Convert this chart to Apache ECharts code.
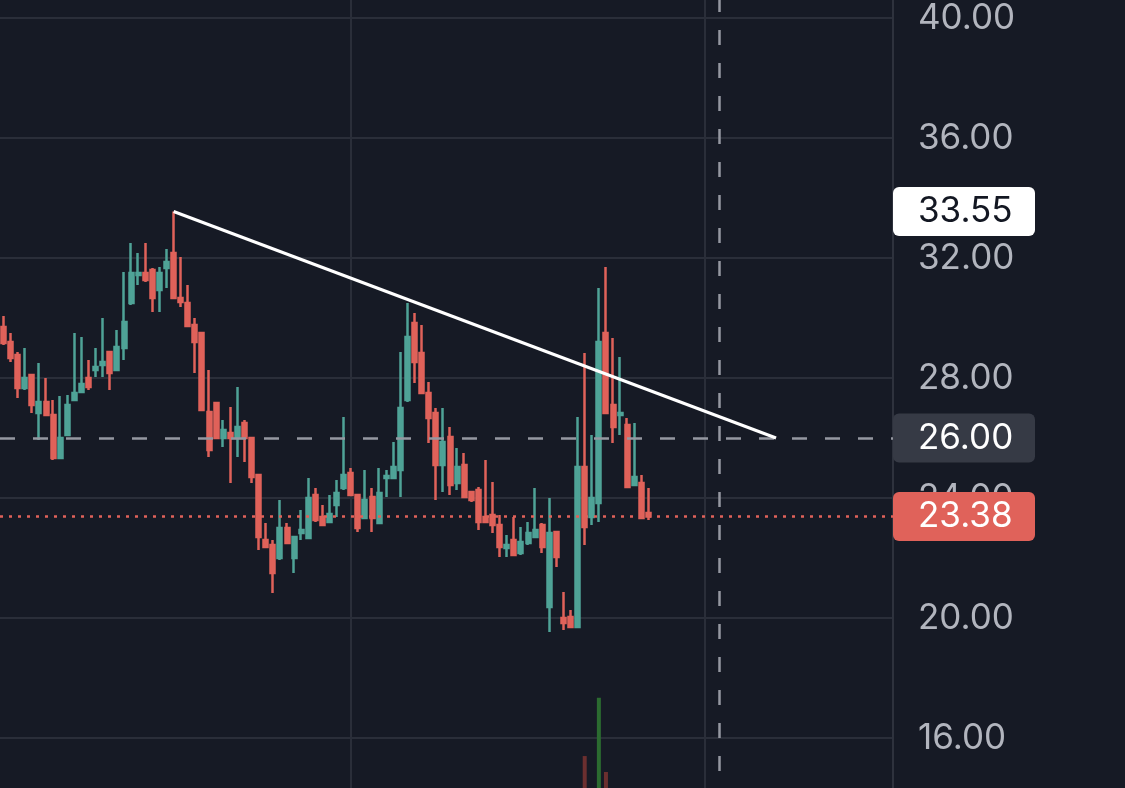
<!DOCTYPE html>
<html><head><meta charset="utf-8">
<script src="https://cdn.jsdelivr.net/npm/echarts@6/dist/echarts.min.js"></script>
<style>html,body{margin:0;padding:0;background:#161a25;}#c{width:1125px;height:788px;}</style>
</head><body><div id="c"></div>
<script>
// ---- data ----
const opens = [29.70,29.20,28.77,27.67,28.10,26.83,27.20,26.77,25.33,26.10,
27.27,27.53,28.00,28.27,28.43,28.87,28.27,29.00,30.50,31.43,
31.50,31.60,30.93,31.67,32.17,30.67,30.50,29.77,29.50,26.87,
27.17,26.00,26.17,26.00,26.50,26.00,24.77,22.60,22.43,22.00,
23.00,22.00,22.83,22.67,24.10,23.37,23.20,23.77,24.33,24.83,
24.10,23.33,24.03,23.17,24.67,24.67,24.93,27.27,29.83,28.83,
27.50,26.83,25.10,26.03,24.50,25.10,24.20,24.27,23.37,23.43,
23.10,22.33,22.60,22.17,22.50,22.70,23.10,20.37,22.87,20.00,
20.03,19.70,25.03,23.37,23.83,29.50,27.10,26.77,26.43,24.43,
24.50,23.50];
const closes = [29.17,28.67,27.67,28.00,27.10,27.20,26.77,25.33,26.00,27.10,
27.50,27.80,27.70,28.37,28.53,28.17,29.03,29.87,31.50,31.50,
31.27,30.67,31.50,31.87,30.67,30.53,29.73,29.20,26.93,25.60,
26.00,26.27,26.00,26.37,26.00,24.70,22.70,22.37,21.50,23.00,
22.50,22.70,22.93,24.00,23.27,23.10,23.47,24.17,24.77,24.10,
23.00,23.93,23.33,24.17,24.73,25.03,27.00,29.37,28.53,27.50,
26.67,25.10,25.87,24.43,25.03,24.03,23.93,23.20,23.20,23.10,
22.37,22.43,22.10,22.53,22.83,22.93,22.37,22.83,22.03,19.83,
19.70,25.03,23.03,24.00,29.20,26.83,26.37,26.83,24.37,24.70,
23.33,23.38];
const lows = [29.10,28.53,27.33,27.60,26.83,25.93,26.77,25.27,25.33,26.10,
27.27,27.53,27.60,28.03,28.03,27.60,28.27,28.60,30.43,31.10,
31.20,30.20,30.20,31.00,30.67,30.37,29.73,28.17,26.93,25.37,
26.00,25.70,24.50,25.37,25.20,24.50,22.27,22.33,20.83,21.93,
22.50,21.50,22.60,22.67,23.20,23.10,23.20,23.37,24.27,24.10,
22.87,23.33,22.87,23.17,24.03,24.67,24.03,27.20,27.83,27.50,
25.83,23.93,24.20,24.10,24.27,24.00,23.87,22.93,23.17,22.83,
22.03,22.03,22.10,22.10,22.43,22.67,22.17,19.53,21.70,19.60,
19.67,19.70,22.43,23.10,23.20,26.83,25.83,26.10,24.37,24.43,
23.33,23.27];
const highs = [30.07,29.50,28.87,29.00,28.10,28.50,28.00,27.27,27.40,27.43,
29.50,29.37,28.60,29.00,30.00,28.87,29.60,31.53,32.50,32.17,
32.50,31.67,31.70,32.30,33.55,32.03,31.10,30.00,29.50,28.27,
27.17,26.60,27.03,27.70,26.60,26.00,24.77,23.17,22.60,23.93,
23.17,22.70,23.60,24.67,24.33,23.77,24.10,24.60,26.70,25.00,
24.10,24.93,24.33,25.00,24.93,25.87,28.87,30.50,30.17,29.77,
27.87,27.00,27.00,26.37,25.67,25.50,24.20,24.37,25.27,24.53,
23.43,22.77,23.37,23.03,23.20,24.33,23.17,24.00,22.87,20.87,
20.27,26.70,28.83,26.10,31.00,31.70,29.33,28.70,26.67,26.50,
24.77,24.33];
// volume: only three bars rise into view at the bottom edge
const volumes = [];
volumes[82] = 17; volumes[84] = 48; volumes[85] = 8.5;
const totalSlots = 126;           // candles + empty space to the right
const yTickMin = 12, yTickMax = 44, yTickStep = 4;
const trendStartIdx = 24, trendStartPrice = 33.55;
const trendEndIdx = 109, trendEndPrice = 26.00;
const crossIdx = 101, crossPrice = 26.00;
const lastPrice = 23.38;
const gridLineIdx = [49, 99];

// ---- build ----
const categories = [];
for (let i = 0; i < totalSlots; i++) categories.push('b' + i);
const ohlc = opens.map((o, i) => [o, closes[i], lows[i], highs[i]]);
const volData = opens.map((o, i) => volumes[i] == null ? null : {
  value: volumes[i],
  itemStyle: { color: closes[i] >= o ? '#2b6b30' : '#6b2f2f' }
});

const UP = '#4fa397', DOWN = '#e0625a';
const FONT = 'Inter, Roboto, sans-serif';
const tag = (bg, fg) => ({
  show: true, position: 'end', distance: 0,
  formatter: p => Number(p.value).toFixed(2),
  backgroundColor: bg, color: fg, fontFamily: FONT, fontSize: 35,
  padding: [6, 18, 5, 25], width: 99, borderRadius: 6, lineHeight: 38
});

const chart = echarts.init(document.getElementById('c'), null, { renderer: 'canvas' });
chart.setOption({
  animation: false,
  backgroundColor: '#161a25',
  grid: [
    { left: 0, right: 232, top: -102, bottom: -70, outerBoundsMode: 'none', containLabel: false },
    { left: 0, right: 232, top: 600, bottom: 0, outerBoundsMode: 'none', containLabel: false }
  ],
  xAxis: [
    { type: 'category', data: categories, gridIndex: 0, boundaryGap: true,
      axisLine: { show: false }, axisTick: { show: false }, axisLabel: { show: false },
      splitLine: { show: true, alignWithLabel: true,
        interval: (i) => gridLineIdx.indexOf(i) >= 0,
        lineStyle: { color: '#2a2e39', width: 2 } } },
    { type: 'category', data: categories, gridIndex: 1, boundaryGap: true,
      axisLine: { show: false }, axisTick: { show: false }, axisLabel: { show: false },
      splitLine: { show: false } }
  ],
  yAxis: [
    { type: 'value', position: 'right', gridIndex: 0, min: yTickMin, max: yTickMax, interval: yTickStep,
      axisLine: { show: true, lineStyle: { color: '#2e323d', width: 2 } },
      axisTick: { show: false },
      axisLabel: { margin: 25, color: '#b2b5be', fontSize: 35, fontFamily: FONT,
        formatter: v => v.toFixed(2) },
      splitLine: { show: true, lineStyle: { color: '#2a2e39', width: 2 } } },
    { type: 'value', gridIndex: 1, min: 0, max: 100, show: false, splitLine: { show: false } }
  ],
  series: [
    { type: 'bar', xAxisIndex: 1, yAxisIndex: 1, data: volData, barWidth: 4, z: 1 },
    { type: 'candlestick', xAxisIndex: 0, yAxisIndex: 0, data: ohlc, barWidth: 4.5, z: 3,
      itemStyle: { color: UP, color0: DOWN, borderColor: UP, borderColor0: DOWN, borderWidth: 2.5 },
      markLine: {
        silent: true, symbol: ['none', 'none'], animation: false,
        data: [
          { yAxis: trendStartPrice, lineStyle: { color: 'rgba(0,0,0,0)', width: 0 },
            label: tag('#ffffff', '#131722') },
          { yAxis: crossPrice, lineStyle: { color: '#9598a1', width: 2.5, type: [15, 18] },
            label: tag('#363a45', '#ffffff') },
          { yAxis: lastPrice, lineStyle: { color: DOWN, width: 2.5, type: [3, 6] },
            label: tag(DOWN, '#ffffff') },
          { xAxis: categories[crossIdx],
            lineStyle: { color: '#9598a1', width: 2.5, type: [15, 18], dashOffset: 12 },
            label: { show: false } },
          [ { coord: [categories[trendStartIdx], trendStartPrice] },
            { coord: [categories[trendEndIdx], trendEndPrice],
              lineStyle: { color: '#ffffff', width: 3, type: 'solid' }, label: { show: false } } ]
        ]
      }
    }
  ]
});
</script>
</body></html>
